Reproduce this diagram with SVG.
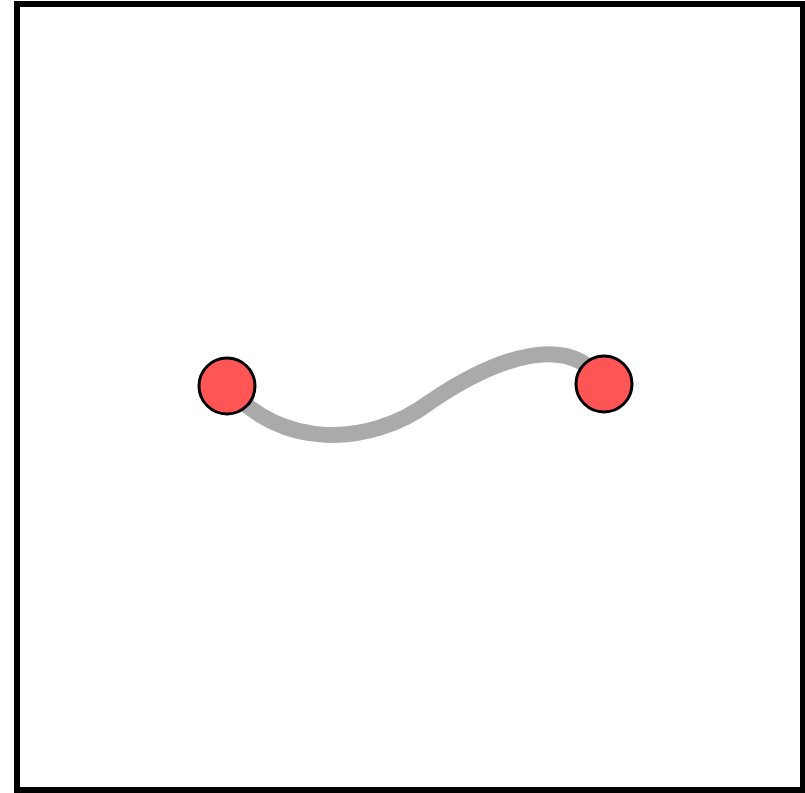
<svg xmlns="http://www.w3.org/2000/svg" width="805" height="793" viewBox="0 0 805 793">
<style>
.node{fill:#ff5555;stroke:#000;stroke-width:3}
.edge{fill:none;stroke:#aaaaaa;stroke-width:16;stroke-linecap:butt}
</style>
<rect x="0" y="0" width="805" height="793" fill="#fff"/>
<rect x="17" y="4" width="786" height="786" fill="none" stroke="#000" stroke-width="6"/>
<g id="connectors">
<path class="edge" d="M227,386 C280,450 370,447 430,402 C495,358 570,330 604,384"/>
</g>
<g id="node-left"><circle class="node" cx="227" cy="386" r="28"/></g>
<g id="node-right"><circle class="node" cx="604" cy="384" r="28"/></g>
</svg>
